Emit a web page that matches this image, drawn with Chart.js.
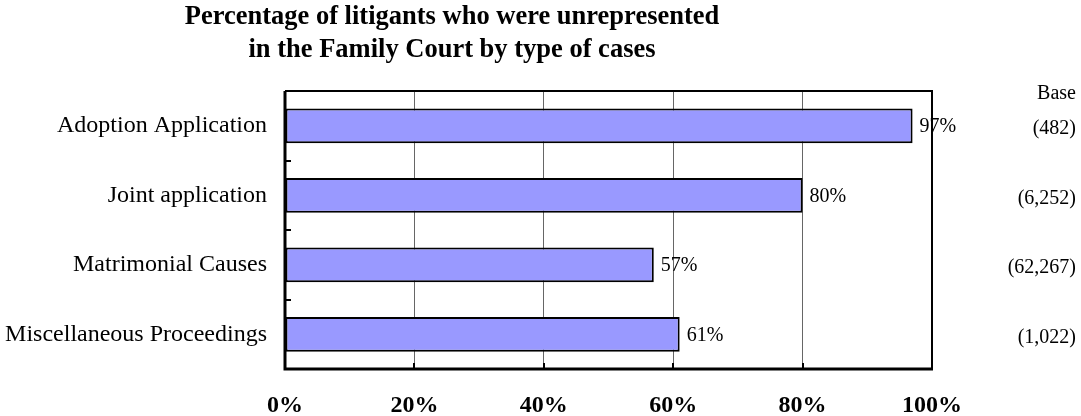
<!DOCTYPE html>
<html>
<head>
<meta charset="utf-8">
<script src="https://cdn.jsdelivr.net/npm/chart.js@4/dist/chart.umd.min.js"></script>
<style>
  html, body { margin: 0; padding: 0; background: #ffffff; }
  #wrap { width: 1081px; height: 416px; position: relative; }
</style>
</head>
<body>
<div id="wrap"><canvas id="c" width="1081" height="416"></canvas></div>
<script>
const titleLines = ['Percentage of litigants who were unrepresented', 'in the Family Court by type of cases'];
const categories = ['Adoption Application', 'Joint application', 'Matrimonial Causes', 'Miscellaneous Proceedings'];
const values = [97, 80, 57, 61];
const valueLabels = ['97%', '80%', '57%', '61%'];
const baseHeader = 'Base';
const baseLabels = ['(482)', '(6,252)', '(62,267)', '(1,022)'];
const xTickValues = [0, 20, 40, 60, 80, 100];

const SERIF = '"Liberation Serif", "Times New Roman", serif';

const decor = {
  id: 'decor',
  afterDatasetsDraw(chart) {
    const ctx = chart.ctx;
    const xs = chart.scales.x, ys = chart.scales.y;
    const meta = chart.getDatasetMeta(0);
    ctx.save();
    // value labels
    ctx.fillStyle = '#000';
    ctx.font = '20px ' + SERIF;
    ctx.textAlign = 'left';
    ctx.textBaseline = 'middle';
    meta.data.forEach((bar, i) => {
      ctx.fillText(valueLabels[i], bar.x + 7, bar.y + 1);
    });
    ctx.restore();
  },
  afterDraw(chart) {
    const ctx = chart.ctx;
    const a = chart.chartArea;
    const xs = chart.scales.x, ys = chart.scales.y;
    ctx.save();
    // frame: top and right
    ctx.strokeStyle = '#000';
    ctx.lineWidth = 2;
    ctx.beginPath();
    ctx.moveTo(a.left, a.top);
    ctx.lineTo(a.right, a.top);
    ctx.lineTo(a.right, a.bottom);
    ctx.stroke();
    // bottom / left axis
    ctx.lineWidth = 3;
    ctx.beginPath();
    ctx.moveTo(a.left, a.top);
    ctx.lineTo(a.left, a.bottom);
    ctx.lineTo(a.right + 1, a.bottom);
    ctx.stroke();
    // x tick marks (inside)
    ctx.lineWidth = 2;
    xTickValues.forEach(v => {
      if (v === 0 || v === 100) return;
      const px = Math.round(xs.getPixelForValue(v));
      ctx.beginPath();
      ctx.moveTo(px, a.bottom);
      ctx.lineTo(px, a.bottom - 6);
      ctx.stroke();
    });
    // y tick marks at category boundaries (inside)
    for (let i = 0; i < categories.length - 1; i++) {
      const py = Math.round((ys.getPixelForValue(i) + ys.getPixelForValue(i + 1)) / 2);
      ctx.beginPath();
      ctx.moveTo(a.left, py);
      ctx.lineTo(a.left + 6, py);
      ctx.stroke();
    }
    // title
    ctx.fillStyle = '#000';
    ctx.font = 'bold 26.5px ' + SERIF;
    ctx.textAlign = 'center';
    ctx.textBaseline = 'middle';
    ctx.fillText(titleLines[0], 452, 17);
    ctx.fillText(titleLines[1], 452, 50);
    // base column
    ctx.font = '20px ' + SERIF;
    ctx.textAlign = 'right';
    ctx.fillText(baseHeader, 1076, 94);
    categories.forEach((c, i) => {
      ctx.fillText(baseLabels[i], 1076, ys.getPixelForValue(i) + 3);
    });
    ctx.restore();
  }
};

new Chart(document.getElementById('c'), {
  type: 'bar',
  data: {
    labels: categories,
    datasets: [{
      data: values,
      backgroundColor: '#9999FF',
      borderColor: '#000000',
      borderWidth: 2,
      borderSkipped: false,
      barPercentage: 0.5,
      categoryPercentage: 1.0
    }]
  },
  options: {
    indexAxis: 'y',
    responsive: false,
    animation: false,
    events: [],
    layout: { padding: { top: 91, right: 149, bottom: 0, left: 0 } },
    plugins: {
      legend: { display: false },
      title: { display: false },
      tooltip: { enabled: false }
    },
    scales: {
      x: {
        type: 'linear',
        min: 0,
        max: 100,
        afterBuildTicks(scale) { scale.ticks = xTickValues.map(v => ({ value: v })); },
        afterFit(scale) { scale.height = 47; },
        grid: { display: true, color: '#666666', lineWidth: 1, drawTicks: false },
        border: { display: false },
        ticks: {
          padding: 22,
          color: '#000',
          font: { family: SERIF, size: 24, weight: 'bold' },
          maxRotation: 0,
          callback: v => v + '%'
        }
      },
      y: {
        type: 'category',
        afterFit(scale) { scale.width = 285; },
        grid: { display: false, drawTicks: false },
        border: { display: false },
        ticks: {
          padding: 18,
          color: '#000',
          font: { family: SERIF, size: 24 }
        }
      }
    }
  },
  plugins: [decor]
});
</script>
</body>
</html>
